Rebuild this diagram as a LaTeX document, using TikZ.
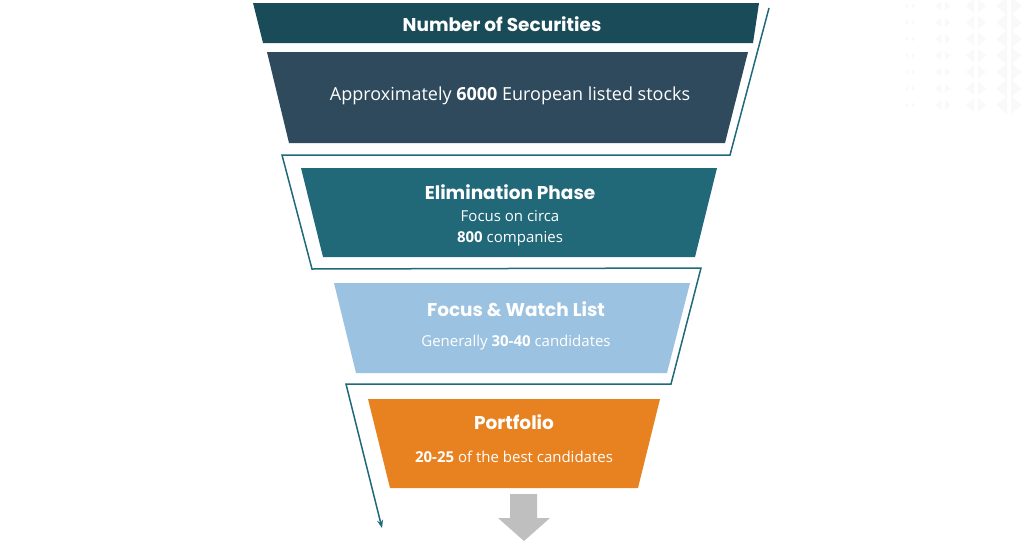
\documentclass[tikz,border=0pt]{standalone}
\usepackage{fontspec}
\setmainfont{Open Sans}
\newfontfamily\headfont{Poppins}
\usetikzlibrary{arrows.meta}
\definecolor{headteal}{HTML}{1A4B58}
\definecolor{slate}{HTML}{2E4A5C}
\definecolor{elimteal}{HTML}{216878}
\definecolor{watchblue}{HTML}{9BC2E1}
\definecolor{portorange}{HTML}{E8811F}
\definecolor{flowline}{HTML}{1F6A7A}
\definecolor{downgray}{HTML}{BFBFBF}
\tikzset{
  >={Stealth[length=8pt,width=6pt]},
  headtxt/.style={text=white, font=\headfont\bfseries\fontsize{18.5}{22}\selectfont},
  bodytxt/.style={text=white, font=\fontsize{18}{22}\selectfont},
  smalltxt/.style={text=white, font=\fontsize{15}{21}\selectfont, align=center},
  flow/.style={draw=flowline, line width=1.5pt, line join=miter},
  deco/.style={fill=black!2.5}
}

\begin{document}
\begin{tikzpicture}[x=1pt, y=-1pt]
    \useasboundingbox (0,0) rectangle (1024,546);

    % faint background triangles
    \foreach \r in {0,...,6} {
      \foreach \c in {0,...,3} {
        \pgfmathsetmacro{\xx}{910+33*\c}
        \pgfmathsetmacro{\yy}{6+16.5*\r}
        \pgfmathsetmacro{\ss}{2.5+2.2*\c}
        \fill[deco] (\xx-2,\yy-\ss) -- (\xx-2,\yy+\ss) -- (\xx-2-1.2*\ss,\yy) -- cycle;
        \fill[deco] (\xx+2,\yy-\ss) -- (\xx+2,\yy+\ss) -- (\xx+2+1.2*\ss,\yy) -- cycle;
      }
    }

    % zigzag line behind the funnel
    \coordinate (Z0) at (769,   8);
    \coordinate (Z1) at (730, 155);
    \coordinate (Z2) at (282, 155);
    \coordinate (Z3) at (312, 269);
    \coordinate (Z4) at (701, 268);
    \coordinate (Z5) at (671, 384);
    \coordinate (Z6) at (346, 384);
    \coordinate (Z7) at (382, 528);
    \draw [flow, ->] (Z0) -- (Z1) -- (Z2) -- (Z3) -- (Z4) -- (Z5) -- (Z6) -- (Z7);

    % funnel stages
    \fill [headteal]   (253,  3) -- (759,  3) -- (753, 43) -- (263, 43) -- cycle;
    \fill [slate]      (267, 52) -- (748, 52) -- (725,143) -- (289,143) -- cycle;
    \fill [elimteal]   (301,168) -- (717,168) -- (695,257) -- (323,257) -- cycle;
    \fill [watchblue]  (334,283) -- (690,283) -- (667,373) -- (356,373) -- cycle;
    \fill [portorange] (368,399) -- (660,399) -- (638,488) -- (390,488) -- cycle;

    \node [headtxt]  (head)    at (502, 24) {Number of Securities};
    \node [bodytxt]  (univ)    at (510, 96) {Approximately \textbf{6000} European listed stocks};
    \node [headtxt]  (elim)    at (510,192) {Elimination Phase};
    \node [smalltxt] (elimtxt) at (510,228) {Focus on circa\\\textbf{800} companies};
    \node [headtxt]  (watch)   at (516,309) {Focus \& Watch List};
    \node [smalltxt] (watchtxt) at (516,343) {Generally \textbf{30-40} candidates};
    \node [headtxt]  (port)    at (514,422) {Portfolio};
    \node [smalltxt] (porttxt) at (514,457) {\textbf{20-25} of the best candidates};

    % outflow arrow
    \fill [downgray] (510,494) -- (537,494) -- (537,518) -- (550,518)
      -- (524,541) -- (498,518) -- (510,518) -- cycle;
  \end{tikzpicture}
\end{document}
